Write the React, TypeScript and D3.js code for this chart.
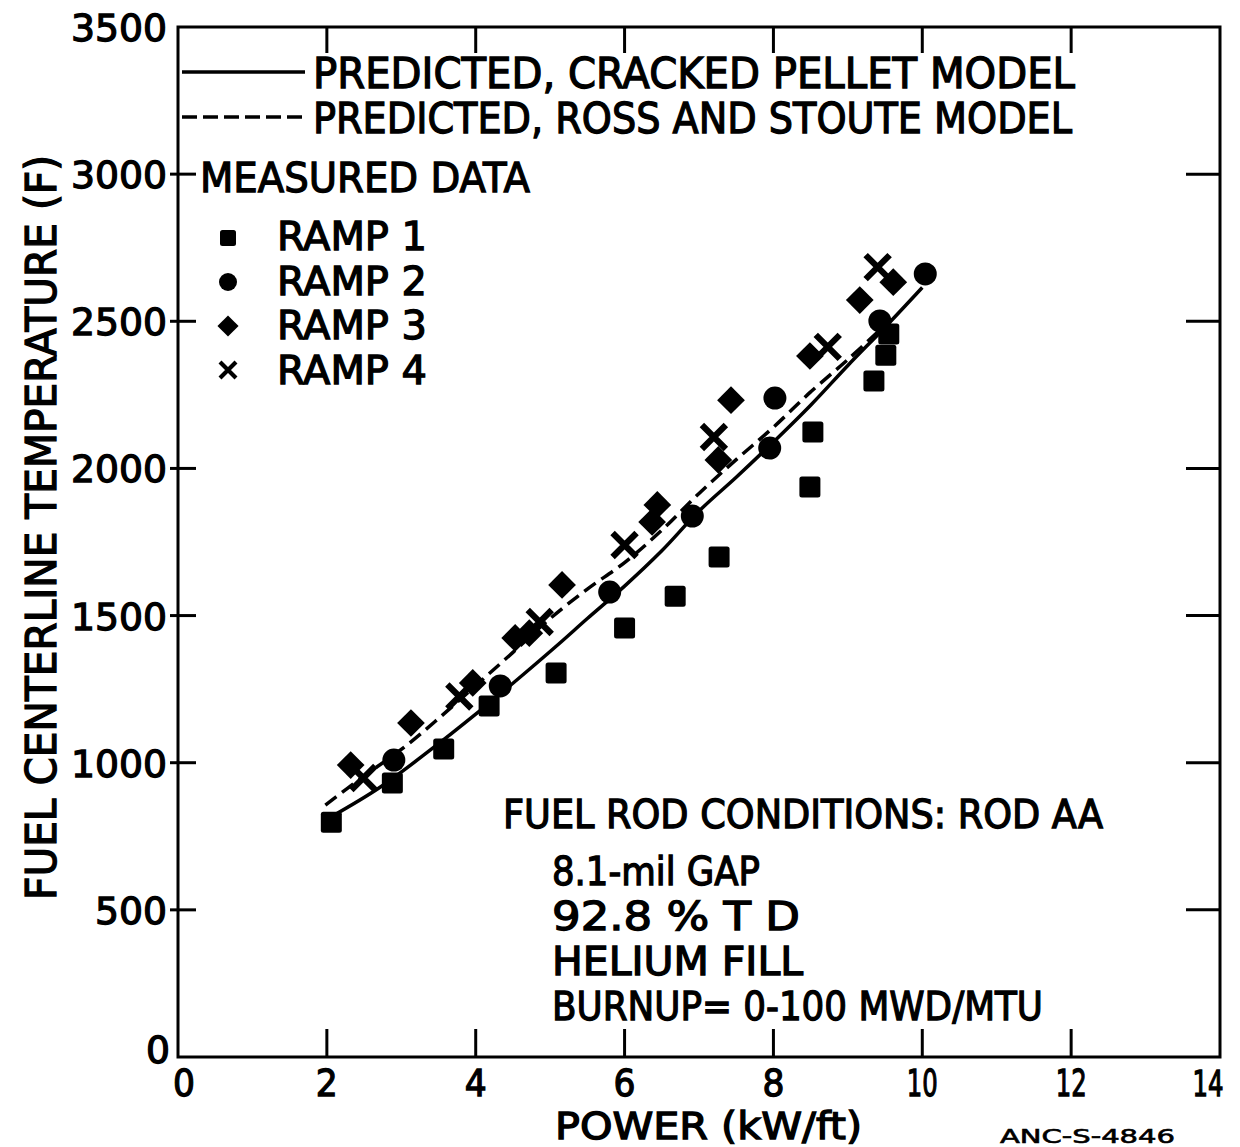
import React from "react";
import * as d3 from "d3";

const xTicks = [0, 2, 4, 6, 8, 10, 12, 14];
const yTicks = [0, 500, 1000, 1500, 2000, 2500, 3000, 3500];

const ramp1X = [2.06, 2.88, 3.57, 4.18, 5.08, 6.0, 6.68, 7.27, 8.49, 8.53, 9.35, 9.51, 9.55];
const ramp1Y = [798, 931, 1047, 1193, 1305, 1458, 1566, 1699, 1937, 2124, 2297, 2385, 2457];

const ramp2X = [2.9, 4.33, 5.8, 6.91, 7.95, 8.02, 9.43, 10.04];
const ramp2Y = [1009, 1261, 1580, 1838, 2069, 2239, 2501, 2661];

const ramp3X = [2.32, 3.13, 3.96, 4.53, 4.72, 5.16, 6.37, 6.44, 7.26, 7.43, 8.49, 9.16, 9.61];
const ramp3Y = [992, 1135, 1271, 1424, 1440, 1604, 1818, 1876, 2029, 2232, 2382, 2572, 2633];

const ramp4X = [2.49, 3.78, 4.86, 6.0, 7.2, 8.73, 9.4];
const ramp4Y = [948, 1225, 1478, 1740, 2107, 2413, 2684];

const crackedX = [2.05, 2.7, 3.4, 4.0, 4.5, 5.1, 5.5, 6.0, 6.5, 7.0, 7.5, 8.0, 8.5, 9.0, 9.5, 10.0];
const crackedY = [815, 914, 1045, 1165, 1270, 1400, 1490, 1600, 1720, 1855, 1970, 2090, 2215, 2350, 2480, 2615];

const rossX = [1.98, 2.5, 3.0, 3.5, 4.0, 4.5, 5.0, 5.5, 6.0, 6.5, 7.0, 7.5, 8.0, 8.5, 9.0, 9.45];
const rossY = [856, 955, 1045, 1150, 1262, 1375, 1490, 1590, 1680, 1790, 1915, 2030, 2140, 2260, 2370, 2475];

const legendLines = ["PREDICTED, CRACKED PELLET  MODEL", "PREDICTED, ROSS AND STOUTE  MODEL"];
const rampLabels = ["RAMP  1", "RAMP  2", "RAMP  3", "RAMP  4"];
const conditionLines = ["8.1-mil  GAP", "92.8   % T D", "HELIUM  FILL", "BURNUP= 0-100 MWD/MTU"];

const FONT = "'DejaVu Sans', sans-serif";

function Marker({ kind, x, y, s }: { kind: number; x: number; y: number; s: number }) {
  if (kind === 0) return <rect x={x - s / 2} y={y - s / 2} width={s} height={s} rx={2.5} fill="#000" />;
  if (kind === 1) return <circle cx={x} cy={y} r={s / 2 + 1} fill="#000" />;
  if (kind === 2) {
    const h = s * 0.66;
    return <path d={`M${x},${y - h} L${x + h},${y} L${x},${y + h} L${x - h},${y} Z`} fill="#000" />;
  }
  const h = s * 0.5;
  return (
    <path d={`M${x - h},${y - h} L${x + h},${y + h} M${x - h},${y + h} L${x + h},${y - h}`}
      stroke="#000" strokeWidth={s * 0.26} strokeLinecap="butt" fill="none" />
  );
}

export default function App() {
  const W = 1240, H = 1147;
  const x = d3.scaleLinear().domain([0, 14]).range([178, 1220]);
  const y = d3.scaleLinear().domain([0, 3500]).range([1057, 27]);
  const line = d3.line<[number, number]>().x(d => x(d[0])).y(d => y(d[1])).curve(d3.curveCatmullRom);
  const cracked = line(crackedX.map((v, i) => [v, crackedY[i]]));
  const ross = line(rossX.map((v, i) => [v, rossY[i]]));
  const ramps = [
    [ramp1X, ramp1Y],
    [ramp2X, ramp2Y],
    [ramp3X, ramp3Y],
    [ramp4X, ramp4Y],
  ];
  const [x0, x1] = x.range();
  const [y0, y1] = y.range();
  const innerX = xTicks.filter(t => t > 0 && t < 14);
  const innerY = yTicks.filter(t => t > 0 && t < 3500);
  const txt = { fontFamily: FONT, fill: "#000", stroke: "#000", strokeWidth: 1.3 } as const;

  return (
    <svg width={W} height={H} style={{ position: "absolute", left: 0, top: 0, background: "#fff" }}>
      <rect x={0} y={0} width={W} height={H} fill="#fff" />
      {/* frame */}
      <rect x={x0} y={y1} width={x1 - x0} height={y0 - y1} fill="none" stroke="#000" strokeWidth={3} />
      {innerX.map(t => (
        <g key={"xt" + t}>
          <line x1={x(t)} x2={x(t)} y1={y0} y2={y0 - 28} stroke="#000" strokeWidth={3} />
          <line x1={x(t)} x2={x(t)} y1={y1} y2={y1 + 26} stroke="#000" strokeWidth={3} />
        </g>
      ))}
      {innerY.map(t => (
        <g key={"yt" + t}>
          <line x1={x0 - 8} x2={x0 + 18} y1={y(t)} y2={y(t)} stroke="#000" strokeWidth={3} />
          <line x1={x1} x2={x1 - 34} y1={y(t)} y2={y(t)} stroke="#000" strokeWidth={3} />
        </g>
      ))}
      {/* tick labels */}
      {xTicks.map(t => (
        <text key={"xl" + t} x={x(t) + (t === 0 ? 6 : t === 14 ? -12 : 0)} y={1096} textAnchor="middle"
          fontSize={t === 14 ? 35 : 38}
          textLength={String(t).length > 1 ? 31 : 22} lengthAdjust="spacingAndGlyphs" {...txt}>
          {t}
        </text>
      ))}
      {yTicks.map(t => (
        <text key={"yl" + t} x={t === 0 ? 170 : 167} y={y(t) + (t === 0 ? 6 : 14)} textAnchor="end" fontSize={38}
          textLength={String(t).length * 24} lengthAdjust="spacingAndGlyphs" {...txt}>
          {t}
        </text>
      ))}
      {/* axis titles */}
      <text x={555} y={1139} fontSize={37} textLength={307} lengthAdjust="spacingAndGlyphs" {...txt}>POWER (kW/ft)</text>
      <text x={1000} y={1143} fontSize={19} textLength={175} lengthAdjust="spacingAndGlyphs" {...txt} strokeWidth={0.6}>ANC-S-4846</text>
      <text transform="translate(56,900) rotate(-90)" x={0} y={0} fontSize={42} textLength={745}
        lengthAdjust="spacingAndGlyphs" {...txt}>FUEL CENTERLINE TEMPERATURE (F)</text>

      {/* predicted lines */}
      <path d={cracked ?? ""} fill="none" stroke="#000" strokeWidth={3.5} />
      <path d={ross ?? ""} fill="none" stroke="#000" strokeWidth={3.5} strokeDasharray="14 7" />

      {/* data markers */}
      {ramps.map(([xs, ys], k) =>
        xs.map((v, i) => <Marker key={`m${k}-${i}`} kind={k} x={x(v)} y={y(ys[i])} s={k === 3 ? 24 : 21} />)
      )}

      {/* legend */}
      <line x1={182} x2={305} y1={72} y2={72} stroke="#000" strokeWidth={3.5} />
      <line x1={182} x2={308} y1={117} y2={117} stroke="#000" strokeWidth={3.5} strokeDasharray="15 6" />
      <text x={313} y={88} fontSize={42} textLength={762} lengthAdjust="spacingAndGlyphs" {...txt}>{legendLines[0]}</text>
      <text x={313} y={133} fontSize={42} textLength={759} lengthAdjust="spacingAndGlyphs" {...txt}>{legendLines[1]}</text>
      <text x={200} y={192} fontSize={41} textLength={330} lengthAdjust="spacingAndGlyphs" {...txt}>MEASURED DATA</text>
      {rampLabels.map((lab, i) => (
        <g key={"lg" + i}>
          <Marker kind={i} x={228} y={238 + i * 44} s={16} />
          <text x={277} y={250 + i * 44.5} fontSize={39} textLength={150} lengthAdjust="spacingAndGlyphs" {...txt}>{lab}</text>
        </g>
      ))}

      {/* conditions */}
      <text x={503} y={828} fontSize={39} textLength={600} lengthAdjust="spacingAndGlyphs" {...txt}>FUEL ROD CONDITIONS: ROD AA</text>
      {conditionLines.map((lab, i) => (
        <text key={"c" + i} x={552} y={885 + i * 45} fontSize={39}
          textLength={[208, 248, 251, 491][i]} lengthAdjust="spacingAndGlyphs" {...txt}>{lab}</text>
      ))}
    </svg>
  );
}
